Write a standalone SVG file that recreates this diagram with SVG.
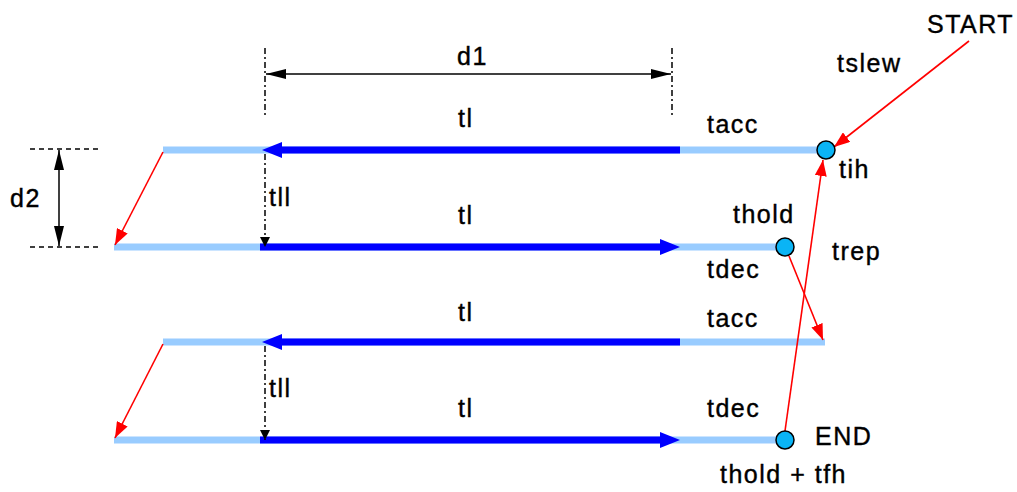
<svg xmlns="http://www.w3.org/2000/svg" width="1017" height="492" viewBox="0 0 1017 492">
<style>
text{font-family:"Liberation Sans",Arial,sans-serif;font-size:25px;letter-spacing:1.5px;fill:#000;stroke:#000;stroke-width:0.4}
.lb{stroke:#99CCFF;stroke-width:7;fill:none}
.db{stroke:#0000FF;stroke-width:7;fill:none}
.red{stroke:#FF0000;stroke-width:1.6;fill:none}
.dim{stroke:#000;stroke-width:1.5;fill:none}
.dash{stroke:#000;stroke-width:1.5;fill:none;stroke-dasharray:6 3 2 3}
.dash2{stroke:#000;stroke-width:1.3;fill:none;stroke-dasharray:5 4}
.pt{fill:#0AB4F5;stroke:#000;stroke-width:1.5}
</style>
<defs>
<marker id="mb" viewBox="0 0 20 16" refX="0" refY="8" markerWidth="20" markerHeight="16" markerUnits="userSpaceOnUse" orient="auto"><path d="M0,0 L20,8 L0,16 z" fill="#0000FF"/></marker>
<marker id="mr" viewBox="0 0 16 12" refX="16" refY="6" markerWidth="16" markerHeight="12" markerUnits="userSpaceOnUse" orient="auto"><path d="M0,0 L16,6 L0,12 z" fill="#FF0000"/></marker>
<marker id="mk" viewBox="0 0 20 10" refX="20" refY="5" markerWidth="20" markerHeight="10" markerUnits="userSpaceOnUse" orient="auto"><path d="M0,0 L20,5 L0,10 z" fill="#000"/></marker>
<marker id="mk2" viewBox="0 0 10 10" refX="10" refY="5" markerWidth="10" markerHeight="10" markerUnits="userSpaceOnUse" orient="auto"><path d="M0,0 L10,5 L0,10 z" fill="#000"/></marker>
</defs>

<g id="dim-d1">
<line class="dash" x1="265" y1="48" x2="265" y2="118"/>
<line class="dash" x1="672" y1="48" x2="672" y2="118"/>
<line class="dim" x1="469" y1="74" x2="266" y2="74" marker-end="url(#mk)"/>
<line class="dim" x1="469" y1="74" x2="671" y2="74" marker-end="url(#mk)"/>
<text x="457" y="65">d1</text>
</g>

<g id="dim-d2">
<line class="dash2" x1="30" y1="149" x2="100" y2="149"/>
<line class="dash2" x1="30" y1="247" x2="100" y2="247"/>
<line class="dim" x1="59" y1="198" x2="59" y2="150" marker-end="url(#mk)"/>
<line class="dim" x1="59" y1="198" x2="59" y2="246" marker-end="url(#mk)"/>
<text x="10" y="207">d2</text>
</g>

<g id="row1">
<line class="lb" x1="163" y1="150" x2="826" y2="150"/>
<line class="db" x1="680" y1="150" x2="282" y2="150" marker-end="url(#mb)"/>
<text x="458" y="127">tl</text>
<text x="707" y="133">tacc</text>
</g>

<g id="row2">
<line class="lb" x1="114" y1="247" x2="785" y2="247"/>
<line class="db" x1="260" y1="247" x2="660" y2="247" marker-end="url(#mb)"/>
<text x="458" y="224">tl</text>
<text x="707" y="278">tdec</text>
<text x="269" y="206">tll</text>
</g>

<g id="row3">
<line class="lb" x1="163" y1="342" x2="825" y2="342"/>
<line class="db" x1="680" y1="342" x2="282" y2="342" marker-end="url(#mb)"/>
<text x="458" y="321">tl</text>
<text x="707" y="327">tacc</text>
</g>

<g id="row4">
<line class="lb" x1="114" y1="440" x2="785" y2="440"/>
<line class="db" x1="260" y1="440" x2="660" y2="440" marker-end="url(#mb)"/>
<text x="458" y="417">tl</text>
<text x="707" y="417">tdec</text>
<text x="269" y="397">tll</text>
</g>

<g id="connectors">
<line class="dash" x1="265" y1="154" x2="265" y2="247" marker-end="url(#mk2)"/>
<line class="dash" x1="265" y1="346" x2="265" y2="440" marker-end="url(#mk2)"/>
<line class="red" x1="163" y1="152" x2="115" y2="245" marker-end="url(#mr)"/>
<line class="red" x1="163" y1="344" x2="115" y2="438" marker-end="url(#mr)"/>
<line class="red" x1="969" y1="41" x2="834" y2="147" marker-end="url(#mr)"/>
<line class="red" x1="785" y1="431" x2="823" y2="160" marker-end="url(#mr)"/>
<line class="red" x1="789" y1="256" x2="823" y2="340" marker-end="url(#mr)"/>
</g>

<g id="start-point">
<circle class="pt" cx="826" cy="150" r="9"/>
<text x="927" y="33">START</text>
<text x="837" y="72">tslew</text>
<text x="839" y="178">tih</text>
</g>

<g id="hold-point">
<circle class="pt" cx="785" cy="247" r="9"/>
<text x="733" y="223">thold</text>
<text x="832" y="260">trep</text>
</g>

<g id="end-point">
<circle class="pt" cx="785" cy="440" r="9"/>
<text x="815" y="445">END</text>
<text x="720" y="483">thold + tfh</text>
</g>
</svg>
